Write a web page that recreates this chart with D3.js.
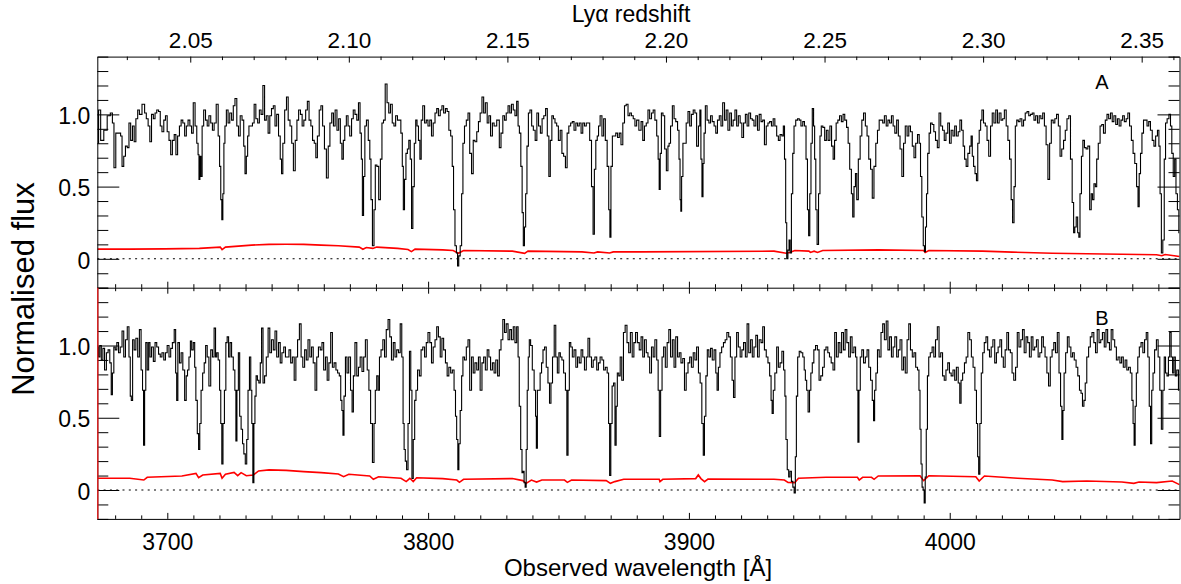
<!DOCTYPE html>
<html><head><meta charset="utf-8">
<script src="https://cdn.jsdelivr.net/npm/d3@7"></script>
<style>
body{margin:0;background:#fff}
svg{display:block;background:#fff}
text{font-family:"Liberation Sans",Arial,Helvetica,sans-serif;fill:#000}
</style>
</head><body>
<svg id="chart" width="1181" height="584"></svg>
<script>
// ---------------- DATA ----------------
// Panel A: [observed wavelength (Å), normalised flux]
const spectrumA = [
[3673.4,0.80],[3673.9,1.03],[3675.0,0.82],[3676.3,0.89],[3677.6,0.99],[3678.7,1.01],[3679.2,0.94],[3679.9,0.63],[3680.6,0.87],[3681.9,0.87],
[3682.3,0.85],[3683.0,0.64],[3683.6,0.71],[3684.3,0.78],[3685.0,0.77],[3685.6,0.94],[3686.3,0.82],[3687.0,0.92],[3687.6,0.81],[3688.3,0.97],
[3689.0,1.03],[3689.6,1.00],[3691.0,1.07],[3691.6,1.01],[3692.3,0.97],[3693.0,0.92],[3693.6,0.81],[3694.3,1.00],[3695.0,0.97],[3695.6,1.01],
[3696.3,1.03],[3697.0,1.02],[3697.6,0.92],[3698.3,0.88],[3699.0,0.96],[3699.6,0.99],[3700.3,0.88],[3701.0,0.82],[3701.6,0.72],[3702.3,0.82],
[3703.0,0.86],[3703.6,0.72],[3704.3,0.85],[3705.0,0.92],[3705.6,0.96],[3706.3,0.94],[3707.0,0.85],[3707.6,0.92],[3708.3,0.96],[3709.0,0.92],
[3709.6,0.87],[3710.3,1.08],[3711.0,0.92],[3711.6,0.80],[3712.0,0.72],[3712.3,0.55],[3712.7,0.71],[3713.1,0.57],[3713.6,0.92],[3714.3,1.03],
[3715.0,0.96],[3715.6,0.92],[3716.3,0.99],[3717.0,0.94],[3717.6,0.89],[3718.3,0.94],[3719.2,1.07],[3719.8,0.85],[3720.3,0.64],[3720.7,0.41],
[3721.1,0.27],[3721.5,0.45],[3721.9,0.80],[3722.3,0.92],[3723.0,1.03],[3723.6,0.94],[3724.3,1.01],[3725.0,0.96],[3725.6,1.06],[3726.3,1.11],
[3727.0,0.92],[3727.6,0.85],[3728.3,0.99],[3729.0,0.96],[3729.6,0.78],[3730.0,0.59],[3730.6,0.71],[3731.0,0.85],[3731.6,0.92],[3732.3,0.92],
[3733.0,0.94],[3733.6,1.07],[3734.3,0.97],[3735.0,0.94],[3735.6,1.03],[3736.3,1.00],[3737.0,1.20],[3737.6,0.96],[3738.3,0.99],[3739.0,0.87],
[3739.6,0.99],[3740.3,1.04],[3741.0,1.06],[3741.6,0.92],[3742.3,1.00],[3743.0,0.85],[3743.6,0.69],[3744.0,0.59],[3744.6,0.80],[3745.4,1.03],
[3746.0,1.12],[3746.7,0.96],[3747.4,0.92],[3748.0,0.80],[3748.7,0.61],[3749.4,0.82],[3750.0,0.96],[3750.7,1.03],[3751.4,1.00],[3752.0,0.92],
[3752.7,0.96],[3753.4,1.03],[3754.0,1.09],[3754.7,0.96],[3755.4,0.92],[3756.0,0.82],[3756.7,0.80],[3757.2,0.70],[3757.9,0.85],[3758.6,1.03],
[3759.2,1.06],[3759.9,0.92],[3760.6,0.76],[3761.4,0.56],[3762.0,0.78],[3762.7,0.94],[3763.4,1.01],[3764.0,0.92],[3764.7,1.03],[3765.4,0.89],
[3766.0,0.97],[3766.7,0.80],[3767.2,0.69],[3767.8,0.82],[3768.3,0.92],[3769.0,0.99],[3769.6,0.92],[3770.3,0.85],[3771.0,0.97],[3771.6,1.03],
[3772.3,1.00],[3773.0,0.96],[3773.6,1.08],[3774.2,0.87],[3774.6,0.69],[3775.0,0.30],[3775.5,0.57],[3776.0,0.92],[3776.7,0.96],[3777.4,0.82],
[3777.9,0.69],[3778.3,0.41],[3779.0,0.09],[3779.5,0.34],[3780.0,0.65],[3780.7,0.64],[3781.4,0.41],[3782.0,0.69],[3782.6,0.94],[3783.2,0.96],
[3783.9,1.21],[3784.6,1.08],[3785.2,1.01],[3785.9,1.07],[3786.6,0.94],[3787.2,0.92],[3787.9,0.99],[3788.6,0.96],[3789.2,0.96],[3789.9,0.87],
[3790.3,0.64],[3790.7,0.34],[3791.2,0.55],[3791.8,0.73],[3792.3,0.76],[3792.9,0.82],[3793.4,0.69],[3793.9,0.21],[3794.4,0.50],[3795.0,0.80],
[3795.5,0.96],[3796.0,0.92],[3796.6,0.82],[3797.1,0.69],[3797.6,0.96],[3798.3,1.06],[3799.0,0.94],[3799.6,0.96],[3800.3,0.92],[3801.0,0.96],
[3801.6,0.85],[3802.3,0.94],[3803.0,1.01],[3803.6,1.04],[3804.3,0.99],[3805.0,1.03],[3805.6,1.06],[3806.3,1.01],[3807.0,1.04],[3807.6,1.02],
[3808.3,0.89],[3809.0,0.85],[3809.5,0.64],[3810.0,0.34],[3810.6,0.09],[3811.1,0.04],[3811.5,-0.05],[3812.0,0.02],[3812.6,0.09],[3813.1,0.45],
[3813.6,0.80],[3814.3,0.92],[3815.0,0.96],[3815.6,1.01],[3816.3,0.73],[3817.0,0.59],[3817.6,0.82],[3818.3,0.81],[3819.0,0.88],[3819.6,0.95],
[3820.3,1.01],[3821.0,1.12],[3821.6,1.01],[3822.3,1.08],[3823.0,0.94],[3823.6,0.99],[3824.3,0.85],[3825.0,0.94],[3825.6,0.92],[3827.0,0.96],
[3827.6,0.77],[3828.3,0.87],[3829.0,0.99],[3829.6,0.96],[3830.3,1.01],[3831.0,1.06],[3831.6,1.01],[3832.3,1.07],[3833.0,1.03],[3833.6,0.99],
[3834.3,1.09],[3834.7,0.92],[3835.3,0.87],[3835.8,0.64],[3836.3,0.32],[3836.7,0.09],[3837.2,0.22],[3837.6,0.45],[3838.2,0.78],[3838.7,1.01],
[3839.4,1.03],[3840.0,0.92],[3840.7,0.89],[3841.4,0.82],[3842.0,1.01],[3842.7,0.92],[3843.4,0.87],[3844.0,0.97],[3844.7,0.99],[3845.4,1.04],
[3846.0,0.85],[3846.6,0.57],[3847.1,0.82],[3847.8,0.99],[3848.3,0.97],[3849.0,0.94],[3849.6,0.92],[3850.3,0.82],[3851.0,0.89],[3851.6,0.73],
[3852.3,0.71],[3853.0,0.63],[3853.6,0.87],[3854.3,0.92],[3855.0,0.94],[3855.6,0.95],[3856.3,0.89],[3857.0,0.94],[3857.6,0.92],[3858.3,0.94],
[3859.0,0.87],[3859.6,0.94],[3860.3,0.92],[3861.0,0.94],[3861.6,0.94],[3862.3,0.82],[3863.0,0.50],[3863.5,0.17],[3864.0,0.62],[3864.6,0.82],
[3865.1,0.85],[3865.6,0.92],[3866.3,0.99],[3867.0,0.85],[3867.6,0.97],[3868.3,0.82],[3869.0,0.64],[3869.5,0.34],[3869.9,0.15],[3870.3,0.64],
[3871.0,0.85],[3871.6,0.85],[3872.3,0.87],[3873.0,0.84],[3873.6,0.87],[3874.3,0.79],[3875.0,0.94],[3875.6,1.06],[3876.3,1.07],[3877.0,0.99],
[3877.6,1.01],[3878.3,0.99],[3879.0,0.97],[3879.6,0.92],[3880.3,0.96],[3881.3,0.89],[3882.0,0.95],[3882.6,0.82],[3883.3,0.92],[3884.0,0.94],
[3884.6,1.03],[3885.3,0.97],[3886.0,1.01],[3886.6,1.03],[3887.3,0.96],[3888.0,0.85],[3888.4,0.69],[3888.8,0.48],[3889.2,0.73],[3889.7,1.01],
[3890.4,0.99],[3891.0,0.76],[3891.7,0.61],[3892.2,0.78],[3892.6,0.80],[3893.3,0.92],[3894.0,1.06],[3894.6,0.97],[3895.3,0.95],[3896.0,0.89],
[3896.4,0.69],[3896.8,0.41],[3897.0,0.33],[3897.4,0.57],[3898.0,0.80],[3898.6,0.80],[3899.3,0.94],[3900.0,1.02],[3900.6,0.92],[3901.3,1.00],
[3902.0,1.03],[3902.6,1.01],[3903.3,0.78],[3904.0,0.92],[3904.4,1.03],[3904.8,0.69],[3905.2,0.43],[3905.6,0.66],[3906.0,0.87],[3906.6,1.06],
[3907.3,0.96],[3908.0,0.94],[3908.6,0.99],[3909.3,0.95],[3910.0,0.92],[3910.6,0.87],[3911.3,0.96],[3912.0,0.99],[3912.6,0.92],[3913.3,1.08],
[3914.0,0.96],[3914.6,1.03],[3915.3,0.89],[3916.0,1.01],[3916.6,0.92],[3917.3,0.96],[3918.0,1.03],[3918.6,0.92],[3919.3,0.99],[3920.0,0.94],
[3920.6,0.84],[3921.3,0.94],[3922.0,1.00],[3922.6,0.92],[3923.3,1.01],[3924.0,0.97],[3924.6,0.96],[3925.3,0.92],[3926.0,0.99],[3926.6,0.89],
[3927.3,1.00],[3928.0,0.95],[3928.6,0.96],[3929.3,0.79],[3930.0,0.92],[3930.6,0.94],[3931.3,0.95],[3932.0,0.92],[3932.6,0.97],[3933.3,0.92],
[3934.0,0.85],[3934.6,0.82],[3935.3,0.86],[3936.0,0.85],[3936.4,0.92],[3936.9,0.69],[3937.3,0.25],[3937.7,0.00],[3938.2,0.06],[3938.6,0.13],
[3939.0,0.04],[3939.6,0.45],[3940.0,0.73],[3940.6,0.92],[3941.3,0.96],[3942.0,0.97],[3942.6,0.96],[3943.3,0.92],[3944.0,0.95],[3944.6,0.92],
[3945.2,0.69],[3945.7,0.34],[3946.1,0.16],[3946.6,0.45],[3947.0,0.80],[3947.6,1.04],[3948.0,0.92],[3948.4,0.69],[3948.9,0.34],[3949.4,0.10],
[3950.0,0.45],[3950.5,0.85],[3951.0,0.92],[3951.7,0.91],[3952.4,0.82],[3953.0,0.89],[3953.7,0.82],[3954.4,0.92],[3955.0,0.78],[3955.6,0.69],
[3956.1,0.82],[3956.8,0.94],[3957.4,0.96],[3958.1,0.99],[3958.8,0.95],[3959.4,1.00],[3960.1,0.96],[3960.8,0.91],[3961.3,0.80],[3962.0,0.62],
[3962.6,0.45],[3963.0,0.29],[3963.6,0.50],[3964.1,0.59],[3964.6,0.41],[3965.3,0.69],[3966.0,0.85],[3966.6,0.96],[3967.3,1.01],[3968.0,0.92],
[3968.6,0.85],[3969.3,0.69],[3970.0,0.62],[3970.6,0.42],[3971.3,0.64],[3972.0,0.80],[3972.6,0.89],[3973.3,0.96],[3974.0,0.96],[3974.6,0.94],
[3975.3,0.99],[3976.0,0.92],[3976.6,0.96],[3977.3,0.94],[3978.0,0.99],[3978.6,0.92],[3979.3,0.87],[3980.0,0.96],[3980.6,0.85],[3981.3,0.76],
[3982.0,0.57],[3982.6,0.80],[3983.3,0.92],[3984.0,0.85],[3984.6,0.92],[3985.3,0.88],[3986.0,0.78],[3986.6,0.70],[3987.3,0.80],[3988.0,0.86],
[3988.6,0.80],[3989.0,0.57],[3989.6,0.29],[3990.1,0.09],[3990.5,0.05],[3990.9,0.22],[3991.3,0.45],[3991.8,0.73],[3992.4,0.87],[3992.9,0.94],
[3993.6,0.93],[3994.2,0.88],[3994.9,0.82],[3995.6,0.77],[3996.2,1.01],[3996.9,0.92],[3997.6,0.89],[3998.2,0.82],[3998.9,0.87],[3999.6,0.94],
[4000.2,0.80],[4000.9,0.89],[4001.6,0.85],[4002.2,0.92],[4002.9,0.85],[4003.6,0.88],[4004.2,0.96],[4004.9,0.89],[4005.4,0.78],[4006.0,0.69],
[4006.6,0.64],[4007.3,0.73],[4008.0,0.78],[4008.4,0.85],[4008.9,0.71],[4009.4,0.64],[4010.0,0.59],[4010.5,0.54],[4011.0,0.80],[4011.6,0.89],
[4012.1,0.96],[4012.6,1.03],[4013.3,0.94],[4014.0,0.92],[4014.6,0.82],[4015.3,0.71],[4016.0,0.92],[4016.6,1.01],[4017.3,0.94],[4018.0,1.03],
[4018.6,0.94],[4019.3,1.01],[4020.0,0.96],[4020.6,0.97],[4021.3,1.03],[4022.0,0.92],[4022.6,0.82],[4023.3,0.69],[4023.8,0.41],[4024.4,0.25],
[4024.9,0.50],[4025.4,0.92],[4026.0,0.96],[4026.6,0.95],[4027.3,0.97],[4028.0,0.92],[4028.6,0.96],[4029.3,1.01],[4030.0,1.02],[4030.6,0.99],
[4031.3,1.00],[4032.0,1.01],[4032.6,0.96],[4033.3,0.99],[4034.0,0.94],[4034.6,0.99],[4035.3,0.97],[4036.0,1.01],[4036.6,0.92],[4037.3,0.79],
[4038.0,0.55],[4038.6,0.80],[4039.3,0.96],[4040.0,0.94],[4040.6,0.97],[4041.3,1.00],[4042.0,0.92],[4042.6,0.71],[4043.3,0.76],[4044.0,0.82],
[4044.6,0.89],[4045.3,0.97],[4046.0,0.99],[4046.6,0.69],[4047.3,0.39],[4047.7,0.18],[4048.2,0.22],[4048.8,0.29],[4049.3,0.18],[4049.7,0.15],
[4050.2,0.45],[4050.8,0.71],[4051.3,0.82],[4052.0,0.77],[4052.6,0.76],[4053.3,0.78],[4054.0,0.34],[4054.5,0.45],[4055.0,0.41],[4055.6,0.52],
[4056.1,0.50],[4056.6,0.69],[4057.3,0.80],[4058.0,0.92],[4058.6,0.93],[4059.3,0.87],[4060.0,0.96],[4060.6,1.00],[4061.3,0.97],[4062.0,1.01],
[4062.6,0.95],[4063.3,0.99],[4064.0,0.93],[4064.6,0.97],[4065.3,0.92],[4066.0,0.96],[4066.6,0.99],[4067.3,0.95],[4068.0,0.97],[4068.6,1.01],
[4069.3,0.92],[4070.0,0.82],[4070.6,0.73],[4071.3,0.66],[4072.0,0.50],[4072.4,0.36],[4072.9,0.59],[4073.4,0.73],[4074.0,0.87],[4074.6,0.96],
[4075.3,0.96],[4076.0,0.92],[4076.6,0.95],[4077.3,0.89],[4078.0,0.82],[4078.6,0.78],[4079.3,0.85],[4080.0,0.89],[4080.4,0.78],[4080.9,0.45],
[4081.4,0.04],[4082.0,0.13],[4082.5,0.69],[4083.0,0.94],[4083.7,0.97],[4084.4,1.00],[4084.9,0.92],[4085.4,0.73],[4086.0,0.57],[4086.5,0.69],
[4087.0,0.45],[4087.6,0.34],[4088.1,0.18]
];
// Panel A error spectrum
const errorA = [
[3673.2,0.067],[3685.6,0.067],[3699.0,0.069],[3712.3,0.072],[3720.3,0.081],[3721.0,0.064],[3722.3,0.081],[3732.3,0.095],[3739.0,0.100],[3745.6,0.101],
[3752.3,0.100],[3759.0,0.095],[3765.6,0.090],[3773.6,0.081],[3775.0,0.066],[3776.3,0.078],[3778.8,0.072],[3780.3,0.081],[3788.3,0.072],[3792.3,0.064],
[3793.6,0.050],[3795.0,0.067],[3805.6,0.062],[3809.6,0.058],[3811.6,0.038],[3813.6,0.058],[3832.3,0.053],[3837.0,0.038],[3838.3,0.053],[3859.0,0.048],
[3863.6,0.040],[3865.0,0.048],[3869.6,0.040],[3871.0,0.048],[3881.4,0.048],[3932.6,0.053],[3937.3,0.039],[3938.6,0.044],[3940.6,0.058],[3946.0,0.053],
[3946.6,0.044],[3948.0,0.053],[3949.3,0.044],[3951.3,0.058],[3972.6,0.062],[3990.0,0.058],[3990.6,0.044],[3992.0,0.058],[4012.6,0.053],[4024.0,0.046],
[4039.3,0.039],[4052.6,0.035],[4079.3,0.028],[4081.3,0.021],[4082.6,0.030],[4088.1,0.016]
];
// Panel B: [observed wavelength (Å), normalised flux]
const spectrumB = [
[3673.4,0.99],[3673.9,0.92],[3674.4,1.00],[3675.0,0.90],[3675.6,0.98],[3676.3,0.83],[3677.0,0.95],[3677.6,0.97],[3678.3,0.88],[3678.7,0.66],
[3679.2,0.81],[3679.8,0.99],[3680.3,0.97],[3681.0,1.02],[3681.6,0.95],[3682.3,0.99],[3683.0,1.10],[3683.6,0.92],[3684.3,1.04],[3685.0,1.13],
[3685.6,0.92],[3686.0,0.65],[3686.4,0.62],[3687.0,1.04],[3687.6,0.97],[3688.3,1.05],[3689.0,0.92],[3689.6,1.11],[3690.3,0.83],[3690.7,0.69],
[3691.1,0.31],[3691.5,0.69],[3692.0,1.02],[3692.6,0.83],[3693.1,1.02],[3693.6,0.92],[3694.3,0.99],[3695.0,0.89],[3695.6,1.02],[3696.3,0.99],
[3697.0,0.94],[3697.6,0.92],[3698.3,0.95],[3699.0,0.90],[3699.6,0.95],[3700.3,1.00],[3701.0,0.92],[3701.6,0.98],[3702.3,1.02],[3703.0,1.11],
[3703.4,0.81],[3703.8,0.62],[3704.3,1.02],[3705.0,0.88],[3705.6,0.95],[3706.3,0.83],[3707.0,0.62],[3707.5,0.79],[3708.0,0.83],[3708.6,0.92],
[3709.1,1.03],[3709.6,0.97],[3710.3,1.02],[3710.7,0.85],[3711.2,0.62],[3711.8,0.39],[3712.2,0.28],[3712.7,0.46],[3713.2,0.69],[3713.9,0.81],
[3714.4,0.88],[3715.0,1.00],[3715.6,0.92],[3716.3,0.72],[3717.0,0.97],[3717.6,0.92],[3718.3,1.12],[3718.7,0.92],[3719.2,0.95],[3719.8,0.90],
[3720.3,0.69],[3720.7,0.46],[3721.1,0.18],[3721.6,0.46],[3722.2,0.69],[3722.7,1.02],[3723.2,1.06],[3723.8,0.92],[3724.3,1.02],[3725.0,0.92],
[3725.6,0.83],[3726.2,0.69],[3726.4,0.34],[3727.0,0.69],[3727.5,0.95],[3728.0,0.51],[3728.6,0.42],[3729.1,0.32],[3729.6,0.25],[3730.2,0.18],
[3730.7,0.35],[3731.2,0.69],[3731.8,0.92],[3732.2,0.69],[3732.6,0.46],[3733.0,0.05],[3733.4,0.46],[3733.8,0.65],[3734.3,0.79],[3734.8,0.76],
[3735.4,0.74],[3735.9,0.88],[3736.4,1.12],[3737.0,0.74],[3737.6,0.79],[3738.3,0.92],[3739.0,1.12],[3739.6,0.95],[3740.3,1.04],[3741.0,0.97],
[3741.6,1.10],[3742.3,0.92],[3743.0,1.02],[3743.6,0.88],[3744.3,0.95],[3745.0,0.99],[3745.6,0.92],[3746.3,0.92],[3747.0,0.97],[3747.6,0.88],
[3748.3,0.92],[3749.0,0.76],[3749.6,0.92],[3750.3,1.04],[3751.0,1.15],[3751.6,0.92],[3752.3,0.85],[3753.0,0.97],[3753.6,0.90],[3754.3,1.04],
[3755.0,0.92],[3755.6,0.99],[3756.3,0.88],[3757.0,0.69],[3757.6,0.92],[3758.3,0.99],[3759.0,0.97],[3759.6,1.02],[3760.3,0.83],[3761.0,0.92],
[3761.6,0.76],[3762.3,0.88],[3763.0,1.09],[3763.6,0.85],[3764.3,0.88],[3765.0,0.83],[3765.6,0.81],[3766.3,0.79],[3766.7,0.62],[3767.2,0.55],
[3767.5,0.38],[3768.0,0.65],[3768.6,0.92],[3769.2,0.81],[3769.9,0.92],[3770.6,0.69],[3771.1,0.54],[3771.6,0.79],[3772.3,1.02],[3773.0,0.79],
[3773.6,0.85],[3774.3,0.92],[3775.0,0.82],[3775.6,0.92],[3776.3,1.04],[3777.0,0.83],[3777.6,0.69],[3778.3,0.46],[3779.0,0.19],[3779.5,0.46],
[3780.0,0.69],[3780.6,0.79],[3781.1,0.69],[3781.6,0.92],[3782.3,0.97],[3783.0,1.04],[3783.6,0.92],[3784.3,1.11],[3785.0,1.18],[3785.6,1.06],
[3786.3,0.90],[3787.0,1.02],[3787.6,0.92],[3788.3,0.97],[3789.0,0.95],[3789.6,1.15],[3790.2,0.92],[3790.6,0.46],[3791.0,0.28],[3791.5,0.20],
[3792.0,0.14],[3792.6,0.46],[3793.1,0.96],[3793.6,0.69],[3794.0,0.08],[3794.6,0.35],[3795.1,0.62],[3795.6,0.69],[3796.3,0.83],[3797.0,0.79],
[3797.6,0.97],[3798.3,0.99],[3799.0,0.92],[3799.6,1.02],[3800.3,1.09],[3801.0,1.02],[3801.6,0.88],[3802.3,0.99],[3803.0,1.04],[3803.6,1.13],
[3804.3,1.06],[3805.0,0.92],[3805.6,1.05],[3806.3,0.97],[3807.0,0.88],[3807.6,0.79],[3808.3,0.85],[3809.0,0.81],[3809.6,0.83],[3810.3,0.69],
[3810.7,0.51],[3811.2,0.35],[3811.6,0.14],[3812.0,0.32],[3812.6,0.55],[3813.1,0.79],[3813.6,0.92],[3814.3,0.90],[3815.0,0.99],[3815.6,1.04],
[3816.3,0.69],[3817.0,0.92],[3817.6,0.81],[3818.3,0.88],[3819.0,0.83],[3819.6,0.92],[3820.3,0.69],[3821.0,0.88],[3821.6,0.92],[3822.3,0.83],
[3823.0,0.97],[3823.6,0.92],[3824.3,0.83],[3825.0,0.88],[3825.6,0.81],[3826.3,0.90],[3827.0,0.79],[3827.6,0.97],[3828.3,1.04],[3829.0,1.18],
[3829.6,1.09],[3830.3,1.15],[3831.0,1.04],[3831.6,1.11],[3832.3,1.04],[3833.0,1.13],[3833.6,1.02],[3834.3,1.13],[3834.7,0.92],[3835.2,0.58],
[3835.8,0.28],[3836.2,0.12],[3836.6,0.13],[3837.0,0.05],[3837.4,0.02],[3837.8,0.28],[3838.2,0.69],[3838.6,0.92],[3839.0,1.04],[3839.6,1.00],
[3840.3,0.83],[3841.0,0.69],[3841.4,0.51],[3841.6,0.29],[3842.2,0.69],[3842.7,0.69],[3843.2,0.81],[3843.8,0.88],[3844.3,0.97],[3845.0,0.99],
[3845.6,0.85],[3846.3,0.74],[3846.8,0.60],[3847.4,0.74],[3848.0,0.92],[3848.7,1.14],[3849.2,0.92],[3849.9,0.81],[3850.4,0.95],[3851.0,0.92],
[3851.6,0.90],[3852.3,0.81],[3853.0,0.69],[3853.4,0.24],[3853.9,0.69],[3854.4,1.02],[3855.0,0.99],[3855.6,0.92],[3856.3,0.97],[3857.0,0.85],
[3857.6,0.92],[3858.3,0.88],[3859.0,0.97],[3859.6,0.92],[3860.3,0.83],[3861.0,0.92],[3861.6,1.05],[3862.3,0.92],[3863.0,0.85],[3863.6,0.90],
[3864.3,0.92],[3865.0,0.83],[3865.6,0.88],[3866.3,0.92],[3867.0,0.90],[3867.6,0.83],[3868.3,0.85],[3869.0,0.81],[3869.4,0.46],[3869.8,0.10],
[3870.3,0.46],[3870.8,0.72],[3871.4,0.74],[3871.9,0.31],[3872.3,0.58],[3872.8,0.81],[3873.4,0.79],[3873.9,0.92],[3874.6,0.76],[3875.2,1.09],
[3875.9,1.14],[3876.6,1.02],[3877.2,0.95],[3877.9,1.09],[3878.6,0.92],[3879.2,1.02],[3879.9,1.09],[3880.6,1.02],[3881.3,0.97],[3882.0,1.06],
[3882.6,0.92],[3883.3,1.04],[3884.0,0.95],[3884.6,0.92],[3885.3,0.81],[3886.0,0.99],[3886.6,0.92],[3887.3,1.04],[3888.0,0.90],[3888.4,0.69],
[3888.9,0.37],[3889.4,0.69],[3890.0,0.92],[3890.6,0.99],[3891.3,0.85],[3892.0,1.02],[3892.6,1.11],[3893.3,0.92],[3894.0,1.04],[3894.6,0.85],
[3895.3,1.06],[3896.0,0.92],[3896.6,0.95],[3897.3,0.88],[3898.0,0.91],[3898.6,0.69],[3899.3,0.81],[3900.0,0.88],[3900.6,0.92],[3901.3,0.85],
[3902.0,0.95],[3902.6,0.90],[3903.3,0.99],[3904.0,0.81],[3904.6,0.74],[3905.3,0.46],[3905.7,0.24],[3906.2,0.51],[3906.8,0.79],[3907.3,0.97],
[3908.0,0.92],[3908.6,0.98],[3909.3,0.90],[3910.0,0.97],[3910.6,0.81],[3911.0,0.69],[3911.6,0.85],[3912.2,0.95],[3912.9,0.99],[3913.6,1.02],
[3914.2,1.04],[3914.9,1.09],[3915.6,1.06],[3916.2,0.92],[3916.9,0.76],[3917.3,0.64],[3918.0,0.92],[3918.6,1.09],[3919.3,0.99],[3920.0,0.92],
[3920.6,0.97],[3921.3,1.02],[3922.0,0.92],[3922.6,1.15],[3923.3,0.95],[3924.0,1.04],[3924.6,0.92],[3925.3,0.99],[3926.0,1.07],[3926.6,0.92],
[3927.3,1.04],[3928.0,1.02],[3928.6,1.13],[3929.3,0.97],[3930.0,0.92],[3930.6,0.88],[3931.3,0.79],[3931.7,0.62],[3932.1,0.53],[3932.6,0.69],
[3933.3,0.81],[3934.0,0.99],[3934.6,0.85],[3935.3,0.88],[3936.0,0.96],[3936.6,0.83],[3937.0,0.65],[3937.4,0.35],[3938.0,0.14],[3938.5,0.09],
[3939.0,0.13],[3939.6,0.06],[3940.1,0.02],[3940.6,-0.02],[3941.0,0.23],[3941.4,0.65],[3942.0,0.92],[3942.6,0.96],[3943.3,0.95],[3944.0,0.92],
[3944.4,0.83],[3944.9,0.76],[3945.4,0.69],[3946.0,0.54],[3946.5,0.69],[3947.0,0.81],[3947.6,0.88],[3948.2,0.97],[3948.9,1.00],[3949.6,0.97],
[3950.2,0.76],[3950.9,0.79],[3951.6,0.85],[3952.2,0.97],[3952.9,0.99],[3953.6,0.95],[3954.2,0.92],[3954.9,0.88],[3955.6,0.83],[3956.2,1.09],
[3956.9,0.92],[3957.6,1.02],[3958.2,0.95],[3958.9,1.09],[3959.6,0.97],[3960.2,1.11],[3960.9,1.02],[3961.6,0.92],[3962.2,1.06],[3962.9,0.95],
[3963.6,0.99],[3964.2,0.92],[3964.6,0.69],[3965.0,0.33],[3965.4,0.69],[3966.0,0.92],[3966.6,0.97],[3967.3,0.88],[3968.0,0.92],[3968.6,0.97],
[3969.3,0.85],[3970.0,0.76],[3970.6,0.62],[3971.0,0.48],[3971.4,0.69],[3972.0,0.81],[3972.6,0.97],[3973.3,0.92],[3974.0,1.09],[3974.6,1.15],
[3975.3,1.04],[3976.0,1.17],[3976.6,0.97],[3977.3,1.06],[3978.0,0.92],[3978.6,0.99],[3979.3,1.06],[3980.0,0.92],[3980.6,0.97],[3981.3,1.04],
[3982.0,0.83],[3982.6,0.92],[3983.3,0.81],[3984.0,1.04],[3984.6,1.15],[3985.3,0.97],[3986.0,0.92],[3986.6,0.95],[3987.3,0.85],[3988.0,0.83],
[3988.4,0.69],[3988.8,0.42],[3989.2,0.18],[3989.6,0.02],[3990.0,0.00],[3990.4,-0.09],[3990.8,0.09],[3991.2,0.42],[3991.7,0.79],[3992.2,0.92],
[3992.9,0.95],[3993.6,0.99],[3994.2,0.92],[3994.9,1.04],[3995.6,1.13],[3996.2,0.92],[3996.9,0.95],[3997.6,0.79],[3998.2,0.76],[3998.9,0.83],
[3999.6,0.88],[4000.2,0.81],[4000.9,0.79],[4001.6,0.83],[4002.2,0.76],[4002.9,0.85],[4003.6,0.74],[4004.1,0.60],[4004.6,0.76],[4005.3,0.81],
[4006.0,0.88],[4006.6,0.92],[4007.3,1.09],[4008.0,1.04],[4008.6,0.92],[4009.3,0.85],[4010.0,0.69],[4010.5,0.46],[4010.9,0.23],[4011.3,0.11],
[4011.8,0.46],[4012.4,0.81],[4012.9,0.95],[4013.6,1.02],[4014.2,1.06],[4014.9,0.97],[4015.6,0.92],[4016.2,0.99],[4016.9,1.04],[4017.6,0.88],
[4018.2,0.95],[4018.9,0.99],[4019.6,1.04],[4020.2,0.92],[4020.9,0.85],[4021.6,0.97],[4022.2,1.09],[4022.9,0.97],[4023.6,0.95],[4024.2,0.81],
[4024.9,0.76],[4025.6,0.85],[4026.2,1.09],[4026.9,0.99],[4027.6,1.04],[4028.2,1.11],[4028.9,0.95],[4029.6,1.06],[4030.2,1.02],[4030.9,0.92],
[4031.6,1.06],[4032.2,0.97],[4032.9,0.99],[4033.6,1.04],[4034.2,0.92],[4034.9,0.95],[4035.6,1.06],[4036.2,0.99],[4036.9,0.92],[4037.6,0.81],
[4038.2,0.72],[4038.9,0.92],[4039.6,0.97],[4040.2,1.02],[4040.9,0.95],[4041.6,1.09],[4042.2,0.81],[4042.8,0.58],[4043.2,0.35],[4043.6,0.55],
[4044.1,0.81],[4044.8,0.95],[4045.4,1.06],[4046.1,0.99],[4046.8,0.92],[4047.4,0.95],[4048.1,0.90],[4048.8,0.85],[4049.4,0.79],[4050.1,0.69],
[4050.6,0.67],[4051.2,0.58],[4051.7,0.62],[4052.2,0.74],[4052.9,0.92],[4053.6,0.99],[4054.2,1.06],[4054.9,1.09],[4055.6,1.02],[4056.2,0.95],
[4056.9,1.11],[4057.6,1.02],[4058.2,1.04],[4058.9,1.09],[4059.6,0.99],[4060.2,1.11],[4060.9,1.02],[4061.6,0.97],[4062.2,1.11],[4062.9,1.04],
[4063.6,0.99],[4064.2,0.90],[4064.9,0.92],[4065.6,0.88],[4066.2,0.92],[4066.9,0.85],[4067.6,0.90],[4068.2,0.83],[4068.9,0.85],[4069.6,0.81],
[4070.1,0.62],[4070.5,0.46],[4070.9,0.31],[4071.3,0.58],[4071.8,0.81],[4072.4,0.92],[4073.0,0.99],[4073.7,1.02],[4074.4,0.95],[4075.0,1.04],
[4075.7,1.09],[4076.2,0.92],[4076.8,0.58],[4077.2,0.32],[4077.7,0.69],[4078.2,0.81],[4078.9,0.97],[4079.6,1.04],[4080.2,0.92],[4080.9,0.69],
[4081.4,0.42],[4082.0,0.69],[4082.5,0.92],[4083.0,0.81],[4083.6,0.79],[4084.1,0.92],[4084.6,1.09],[4085.2,0.92],[4085.7,0.81],[4086.2,0.92],
[4086.8,0.79],[4087.3,0.83],[4088.1,0.69]
];
// Panel B error spectrum
const errorB = [
[3673.2,0.081],[3685.6,0.081],[3691.0,0.069],[3692.3,0.088],[3705.6,0.097],[3711.0,0.115],[3712.0,0.085],[3713.6,0.104],[3720.3,0.115],[3721.0,0.081],
[3722.3,0.109],[3725.6,0.122],[3727.0,0.099],[3728.3,0.120],[3730.3,0.099],[3733.0,0.104],[3735.0,0.132],[3739.0,0.139],[3745.6,0.136],[3752.3,0.127],
[3759.0,0.120],[3765.6,0.111],[3767.6,0.092],[3769.6,0.109],[3777.6,0.097],[3779.0,0.074],[3781.0,0.092],[3789.6,0.081],[3791.6,0.058],[3793.0,0.081],
[3794.3,0.058],[3795.6,0.085],[3805.6,0.079],[3811.0,0.069],[3812.0,0.053],[3813.6,0.074],[3832.3,0.079],[3836.3,0.065],[3837.6,0.046],[3839.6,0.069],
[3841.6,0.055],[3843.6,0.069],[3852.3,0.069],[3853.4,0.053],[3855.0,0.069],[3868.3,0.065],[3869.9,0.046],[3871.6,0.058],[3875.0,0.074],[3881.1,0.074],
[3888.6,0.074],[3888.9,0.058],[3890.0,0.074],[3902.6,0.079],[3903.6,0.104],[3904.6,0.079],[3906.0,0.058],[3907.3,0.076],[3932.6,0.074],[3936.6,0.069],
[3938.0,0.053],[3940.6,0.051],[3942.0,0.081],[3952.6,0.088],[3964.6,0.088],[3965.3,0.069],[3966.6,0.088],[3970.0,0.088],[3971.0,0.074],[3972.6,0.097],
[3988.6,0.099],[3990.0,0.065],[3992.0,0.099],[4010.0,0.092],[4011.3,0.062],[4013.3,0.097],[4026.0,0.081],[4039.3,0.069],[4043.3,0.058],[4052.6,0.062],
[4066.0,0.055],[4070.6,0.046],[4072.6,0.055],[4079.3,0.051],[4085.3,0.062],[4088.1,0.037]
];
const panelNames = ["A", "B"];
const waveMajorTicks = [3700, 3800, 3900, 4000];
const redshiftMajorTicks = [2.05, 2.10, 2.15, 2.20, 2.25, 2.30, 2.35];
const fluxMajorTicks = [0, 0.5, 1.0];
const fluxTickLabels = ["0", "0.5", "1.0"];
const lyaRest = 1216.0;   // Å, for the top redshift axis
const waveRange = [3673.16, 4088.1];
const fluxRange = [-0.2, 1.4];

// ---------------- LAYOUT ----------------
const svg = d3.select("#chart");
const L = 97.3, R = 1179.5;
const panelBox = [{top:56.6, bottom:287.7}, {top:287.7, bottom:518.9}];
const FONT = '"Liberation Sans",Arial,Helvetica,sans-serif';

const x = d3.scaleLinear().domain(waveRange).range([L, R]);
const z = d3.scaleLinear().domain(waveRange.map(w => w / lyaRest - 1)).range([L, R]);
const yScales = panelBox.map(b => d3.scaleLinear().domain(fluxRange).range([b.bottom, b.top]));
const spectra = [spectrumA, spectrumB];
const errors = [errorA, errorB];

const waveMinor = d3.range(3680, 4089, 10).filter(v => !waveMajorTicks.includes(v));
const zMinor = d3.range(203, 237).map(v => v / 100).filter(v => !redshiftMajorTicks.some(m => Math.abs(m - v) < 1e-6));
const fluxMinor = d3.range(-2, 15).map(v => v / 10).filter(v => !fluxMajorTicks.some(m => Math.abs(m - v) < 1e-6));

const defs = svg.append("defs");

panelBox.forEach((b, i) => {
  const y = yScales[i];
  defs.append("clipPath").attr("id", "clip" + i).append("rect")
    .attr("x", L).attr("y", b.top).attr("width", R - L).attr("height", b.bottom - b.top);
  const g = svg.append("g");
  g.append("line").attr("x1", L).attr("x2", R).attr("y1", y(0)).attr("y2", y(0))
    .attr("stroke", "#000").attr("stroke-width", 1.1).attr("stroke-dasharray", "2,4.3");
  const plot = g.append("g").attr("clip-path", `url(#clip${i})`);
  plot.append("path").datum(errors[i])
    .attr("fill", "none").attr("stroke", "#ff0000").attr("stroke-width", 1.6)
    .attr("d", d3.line().x(d => x(d[0])).y(d => y(d[1])));
  plot.append("path").datum(spectra[i])
    .attr("fill", "none").attr("stroke", "#000").attr("stroke-width", 1.1)
    .attr("d", d3.line().x(d => x(d[0])).y(d => y(d[1])).curve(d3.curveStep));

  const yl = svg.append("g").attr("transform", `translate(${L},0)`);
  yl.call(d3.axisLeft(y).tickValues(fluxMajorTicks).tickSize(-22).tickSizeOuter(0).tickPadding(7)
      .tickFormat(d => fluxTickLabels[fluxMajorTicks.indexOf(d)]));
  yl.append("g").call(d3.axisLeft(y).tickValues(fluxMinor).tickSize(-11).tickSizeOuter(0).tickFormat(""))
    .select(".domain").remove();
  yl.selectAll("text").attr("font-size", 23).attr("font-family", FONT).attr("dy", "0.4em").attr("fill", "#000");

  const yr = svg.append("g").attr("transform", `translate(${R},0)`);
  yr.call(d3.axisRight(y).tickValues(fluxMajorTicks).tickSize(-22).tickSizeOuter(0).tickFormat(""));
  yr.append("g").call(d3.axisRight(y).tickValues(fluxMinor).tickSize(-11).tickSizeOuter(0).tickFormat(""))
    .select(".domain").remove();

  svg.append("text").attr("x", 1102).attr("y", i === 0 ? 88.5 : 325)
    .attr("text-anchor", "middle").attr("font-size", 20).text(panelNames[i]);
});

// Panel A top: redshift axis
const topAxisG = svg.append("g").attr("transform", `translate(0,${panelBox[0].top})`);
topAxisG.call(d3.axisTop(z).tickValues(redshiftMajorTicks).tickSize(-6).tickSizeOuter(0).tickPadding(9)
  .tickFormat(d3.format(".2f")));
topAxisG.append("g").call(d3.axisTop(z).tickValues(zMinor).tickSize(-3.5).tickSizeOuter(0).tickFormat(""))
  .select(".domain").remove();
topAxisG.selectAll("text").attr("font-size", 22.5).attr("font-family", FONT).attr("fill", "#000");

// Shared middle line
const midAxisG = svg.append("g").attr("transform", `translate(0,${panelBox[0].bottom})`);
midAxisG.call(d3.axisBottom(x).tickValues(waveMajorTicks).tickSize(-6).tickSizeOuter(0).tickFormat(""));
midAxisG.append("g").call(d3.axisBottom(x).tickValues(waveMinor).tickSize(-3.5).tickSizeOuter(0).tickFormat(""))
  .select(".domain").remove();
midAxisG.append("g").call(d3.axisTop(x).tickValues(waveMajorTicks).tickSize(-6).tickSizeOuter(0).tickFormat(""))
  .select(".domain").remove();
midAxisG.append("g").call(d3.axisTop(x).tickValues(waveMinor).tickSize(-3.5).tickSizeOuter(0).tickFormat(""))
  .select(".domain").remove();

// Bottom wavelength axis
const botAxisG = svg.append("g").attr("transform", `translate(0,${panelBox[1].bottom})`);
botAxisG.call(d3.axisBottom(x).tickValues(waveMajorTicks).tickSize(-6).tickSizeOuter(0).tickPadding(15)
  .tickFormat(d3.format("d")));
botAxisG.append("g").call(d3.axisBottom(x).tickValues(waveMinor).tickSize(-3.5).tickSizeOuter(0).tickFormat(""))
  .select(".domain").remove();
botAxisG.selectAll("text").attr("font-size", 23).attr("font-family", FONT).attr("fill", "#000");

// Red left spine of panel B
svg.append("line").attr("x1", L + 0.5).attr("x2", L + 0.5)
  .attr("y1", panelBox[1].top).attr("y2", panelBox[1].bottom)
  .attr("stroke", "#e02020").attr("stroke-width", 1.4);

// Axis titles
svg.append("text").attr("x", 631).attr("y", 22).attr("text-anchor", "middle")
  .attr("font-size", 23).text("Lyα redshift");
svg.append("text").attr("x", 638).attr("y", 576).attr("text-anchor", "middle")
  .attr("font-size", 24).text("Observed wavelength [Å]");
svg.append("text").attr("transform", "translate(34,289) rotate(-90)").attr("text-anchor", "middle")
  .attr("font-size", 31).text("Normalised flux");
</script>
</body></html>
